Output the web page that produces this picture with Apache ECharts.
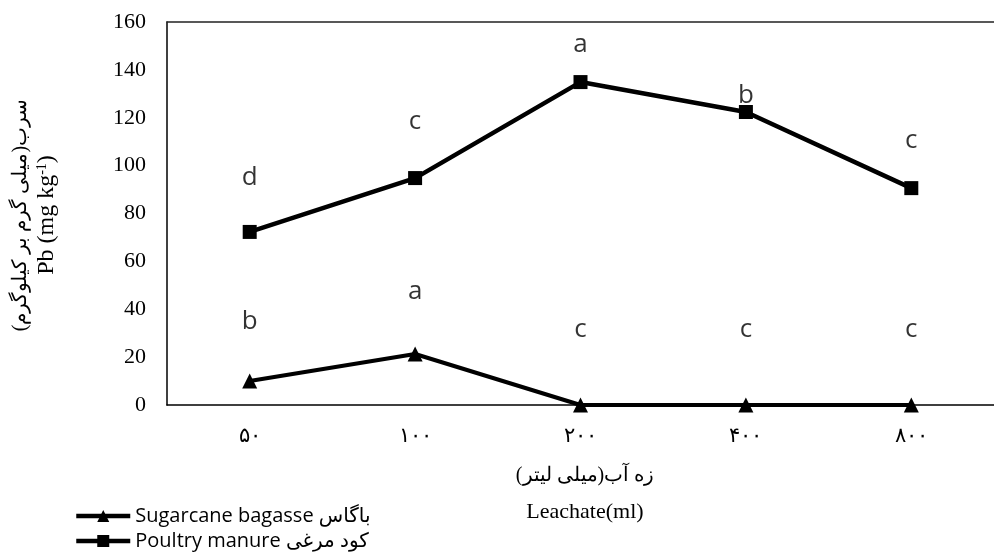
<!DOCTYPE html>
<html>
<head>
<meta charset="utf-8">
<script src="https://cdn.jsdelivr.net/npm/echarts@6/dist/echarts.min.js"></script>
<style>html,body{margin:0;padding:0;background:#fff}#c{width:994px;height:552px}</style>
</head>
<body>
<div id="c"></div>
<script>
var categories = ['۵۰', '۱۰۰', '۲۰۰', '۴۰۰', '۸۰۰'];
var yTicks = [0, 20, 40, 60, 80, 100, 120, 140, 160];
var sugarcane = [10, 21.3, 0, 0, 0];
var poultry = [72.3, 94.8, 134.9, 122.4, 90.6];
var sugarcaneLetters = ['b', 'a', 'c', 'c', 'c'];
var sugarcaneLetterY = [34.7, 47.2, 31.7, 31.7, 31.7];
var poultryLetters = ['d', 'c', 'a', 'b', 'c'];
var poultryLetterY = [95.2, 118.6, 150.4, 129.2, 110.3];
var seriesNames = ['Sugarcane bagasse باگاس', 'Poultry manure کود مرغی'];

var chart = echarts.init(document.getElementById('c'), null, {renderer: 'canvas'});
var serif = '"Liberation Serif", "DejaVu Serif", serif';
var sans = '"Open Sans", "DejaVu Sans", sans-serif';

function letterData(letters, ys) {
  return letters.map(function (l, i) { return {value: [categories[i], ys[i]], label: {formatter: l}}; });
}
var legendText = {color: '#000', fontSize: 20, fontFamily: sans};

chart.setOption({
  animation: false,
  grid: {left: 167, top: 22, width: 837, height: 383, containLabel: false},
  xAxis: [{
    type: 'category', data: categories, boundaryGap: true,
    axisLine: {lineStyle: {color: '#000', width: 1.5}},
    axisTick: {show: false},
    axisLabel: {color: '#000', fontSize: 21, fontFamily: serif, margin: 21},
    splitLine: {show: false}
  }, {
    type: 'category', data: categories, position: 'top',
    axisLine: {lineStyle: {color: '#222', width: 1.5}},
    axisTick: {show: false}, axisLabel: {show: false}
  }],
  yAxis: {
    type: 'value', min: 0, max: 160, interval: 20,
    axisLine: {show: true, lineStyle: {color: '#000', width: 1.5}},
    axisTick: {show: false},
    splitLine: {show: false},
    axisLabel: {color: '#000', fontSize: 22, fontFamily: serif, margin: 21,
      formatter: function (v) { return yTicks.indexOf(v) >= 0 ? String(v) : ''; }}
  },
  legend: [{
    orient: 'vertical', left: 74, top: 506, padding: 0, itemWidth: 54, itemHeight: 15,
    lineStyle: {width: 4.5, color: '#000'},
    data: [seriesNames[0]], textStyle: legendText
  }, {
    orient: 'vertical', left: 74, top: 531, padding: 0, itemWidth: 54, itemHeight: 15,
    lineStyle: {width: 4.5, color: '#000'},
    data: [seriesNames[1]], textStyle: legendText
  }],
  series: [{
    name: seriesNames[0], type: 'line', data: sugarcane,
    symbol: 'triangle', symbolSize: 15,
    lineStyle: {color: '#000', width: 4},
    itemStyle: {color: '#000'}
  }, {
    name: seriesNames[1], type: 'line', data: poultry,
    symbol: 'rect', symbolSize: 14,
    lineStyle: {color: '#000', width: 4.5},
    itemStyle: {color: '#000'}
  }, {
    type: 'scatter', data: letterData(poultryLetters, poultryLetterY), symbolSize: 0,
    label: {show: true, position: 'inside', color: '#000', fontSize: 26, fontFamily: sans}
  }, {
    type: 'scatter', data: letterData(sugarcaneLetters, sugarcaneLetterY), symbolSize: 0,
    label: {show: true, position: 'inside', color: '#000', fontSize: 26, fontFamily: sans}
  }],
  graphic: [{
    type: 'text', x: 21, y: 215, rotation: Math.PI / 2, silent: true,
    style: {text: 'سرب(میلی گرم بر کیلوگرم)', font: '20px ' + serif, fill: '#000', align: 'center', verticalAlign: 'middle'}
  }, {
    type: 'text', x: 47, y: 215, rotation: Math.PI / 2, silent: true,
    style: {
      text: '{a|Pb (mg kg}{s|-1}{a|)}',
      rich: {a: {fontSize: 24, fontFamily: serif, color: '#000'},
             s: {fontSize: 14, fontFamily: serif, color: '#000', verticalAlign: 'top', padding: [0, 0, 10, 0]}},
      align: 'center', verticalAlign: 'middle'
    }
  }, {
    type: 'text', x: 585, y: 476, silent: true,
    style: {text: 'زه آب(میلی لیتر)', font: '20px ' + serif, fill: '#000', align: 'center', verticalAlign: 'middle'}
  }, {
    type: 'text', x: 585, y: 512, silent: true,
    style: {text: 'Leachate(ml)', font: '22px ' + serif, fill: '#000', align: 'center', verticalAlign: 'middle'}
  }]
});
</script>
</body>
</html>
